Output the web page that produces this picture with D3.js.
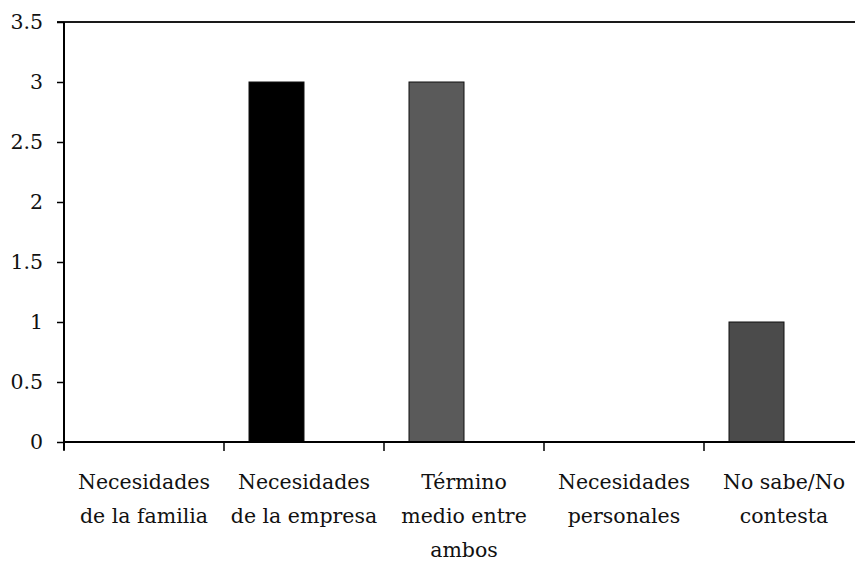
<!DOCTYPE html>
<html><head><meta charset="utf-8">
<script src="https://cdn.jsdelivr.net/npm/d3@7"></script>
<style>body{margin:0;background:#fff;} svg{display:block;}</style>
</head><body>
<svg id="chart" width="855" height="562"></svg>
<script>
const categories = [
  ["Necesidades", "de la familia"],
  ["Necesidades", "de la empresa"],
  ["Término", "medio entre", "ambos"],
  ["Necesidades", "personales"],
  ["No sabe/No", "contesta"]
];
const categoryKeys = ["familia", "empresa", "termino", "personales", "nosabe"];
const values = [0, 3, 3, 0, 1];
const barColors = ["#000000", "#000000", "#5a5a5a", "#4b4b4b", "#4b4b4b"];
const yTicks = [0, 0.5, 1, 1.5, 2, 2.5, 3, 3.5];

(function () {
const svg = d3.select("#chart");
const font = "'DejaVu Serif', serif";
const fs = 20.5;
const mLeft = 64, mRight = 864, mTop = 22, mBottom = 442;

const x = d3.scaleBand().domain(categoryKeys).range([mLeft, mRight]).padding(0);
const y = d3.scaleLinear().domain([0, 3.5]).range([mBottom, mTop]);
const bw = x.bandwidth();

svg.append("line").attr("x1", mLeft - 7).attr("x2", 855).attr("y1", y(3.5)).attr("y2", y(3.5))
  .attr("stroke", "#1a1a1a").attr("stroke-width", 2);

svg.selectAll("rect.bar").data(categoryKeys.map((k, i) => ({k, v: values[i], c: barColors[i]})).filter(d => d.v > 0))
  .enter().append("rect").attr("class", "bar")
  .attr("x", d => x(d.k) + bw * 25 / 160)
  .attr("width", bw * 55 / 160)
  .attr("y", d => y(d.v))
  .attr("height", d => y(0) - y(d.v))
  .attr("fill", d => d.c)
  .attr("stroke", "#111").attr("stroke-width", 1);

const yAxis = d3.axisLeft(y).tickValues(yTicks).tickSize(7).tickPadding(14).tickFormat(d3.format("~g"));
const gy = svg.append("g").attr("transform", `translate(${mLeft},0)`).call(yAxis);
gy.select(".domain").remove();
gy.selectAll(".tick line").attr("stroke", "#000").attr("stroke-width", 1.5);
gy.selectAll(".tick text").attr("font-family", font).attr("font-size", fs).attr("fill", "#111");
svg.append("line").attr("x1", mLeft).attr("x2", mLeft).attr("y1", mTop).attr("y2", mBottom + 8)
  .attr("stroke", "#000").attr("stroke-width", 2);

const xTickPos = d3.range(categoryKeys.length).map(i => mLeft + i * bw);
svg.append("line").attr("x1", mLeft).attr("x2", 855).attr("y1", mBottom).attr("y2", mBottom)
  .attr("stroke", "#000").attr("stroke-width", 2);
svg.selectAll("line.xt").data(xTickPos).enter().append("line").attr("class", "xt")
  .attr("x1", d => d).attr("x2", d => d).attr("y1", mBottom).attr("y2", mBottom + 9)
  .attr("stroke", "#000").attr("stroke-width", 1.5);

const lab = svg.selectAll("text.xl").data(categoryKeys.map((k, i) => ({k, lines: categories[i]})))
  .enter().append("text").attr("class", "xl")
  .attr("text-anchor", "middle")
  .attr("font-family", font).attr("font-size", fs).attr("fill", "#111");
lab.selectAll("tspan").data(d => d.lines.map(l => ({l, cx: x(d.k) + bw / 2})))
  .enter().append("tspan")
  .attr("x", d => d.cx)
  .attr("y", (d, i) => 489 + i * 34)
  .text(d => d.l);
})();
</script>
</body></html>
